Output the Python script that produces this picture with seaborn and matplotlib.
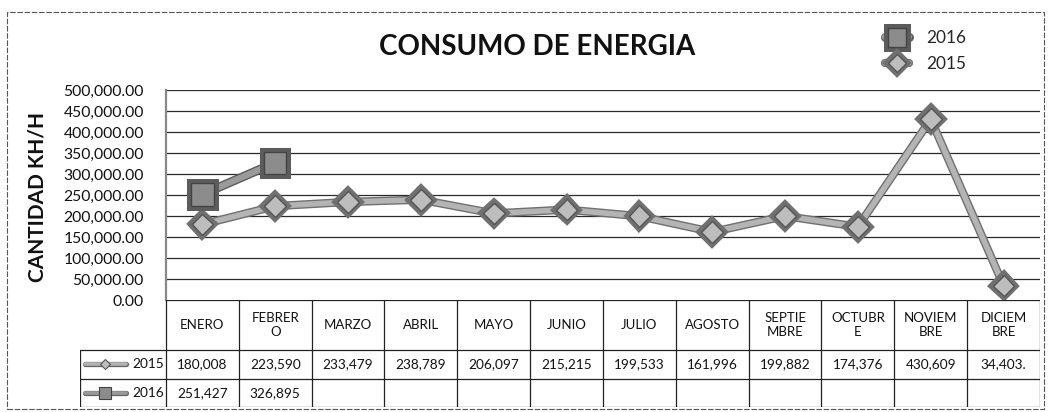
import numpy as np
import pandas as pd
import matplotlib
matplotlib.use("Agg")
import matplotlib.pyplot as plt
import matplotlib.patheffects as pe
from matplotlib.lines import Line2D
from matplotlib.patches import Rectangle
import seaborn as sns

# datos
meses = ["ENERO", "FEBRERO", "MARZO", "ABRIL", "MAYO", "JUNIO", "JULIO",
         "AGOSTO", "SEPTIEMBRE", "OCTUBRE", "NOVIEMBRE", "DICIEMBRE"]
consumo_2015 = [180008, 223590, 233479, 238789, 206097, 215215, 199533,
                161996, 199882, 174376, 430609, 34403]
consumo_2016 = [251427, 326895]
y_ticks = [0, 50000, 100000, 150000, 200000, 250000, 300000, 350000,
           400000, 450000, 500000]

W, H = 1049, 412

sns.set_theme(style="white")
plt.rcParams["font.family"] = ["Lato", "DejaVu Sans"]


def fig_box(x0, y0, x1, y1):
    # caja en pixeles (origen arriba a la izquierda) -> fraccion de figura
    return [x0 / W, 1 - y1 / H, (x1 - x0) / W, (y1 - y0) / H]


def celda(v):
    # excel recorta el numero al ancho de la celda
    return f"{v:,.2f}"[:7]


def encabezado(m):
    return m if len(m) <= 6 else m[:6] + "\n" + m[6:]


df15 = pd.DataFrame({"x": range(len(consumo_2015)), "y": consumo_2015})
df16 = pd.DataFrame({"x": range(len(consumo_2016)), "y": consumo_2016})

fig = plt.figure(figsize=(W / 100, H / 100), dpi=100)
fig.patch.set_facecolor("white")

plot_l, plot_r, plot_t, plot_b = 166, 1040, 90, 300
ax = fig.add_axes(fig_box(plot_l, plot_t, plot_r, plot_b))

estilo15 = dict(color="#b4b4b4", linewidth=4.0, marker="D", markersize=11,
                markerfacecolor="#bdbdbd", markeredgecolor="#555555",
                markeredgewidth=1.0,
                path_effects=[pe.Stroke(linewidth=6, foreground="#707070"), pe.Normal()])
estilo16 = dict(color="#9a9a9a", linewidth=4.5, marker="s", markersize=16,
                markerfacecolor="#8c8c8c", markeredgecolor="#444444",
                markeredgewidth=1.0,
                path_effects=[pe.Stroke(linewidth=6.5, foreground="#5c5c5c"), pe.Normal()])

sns.lineplot(data=df15, x="x", y="y", ax=ax, label="2015", zorder=3, **estilo15)
sns.lineplot(data=df16, x="x", y="y", ax=ax, label="2016", zorder=4, **estilo16)

ax.set_xlim(-0.5, len(meses) - 0.5)
ax.set_ylim(0, 500000)
ax.set_yticks(y_ticks)
ax.set_yticklabels([f"{v:,.2f}" for v in y_ticks], fontsize=11.3, color="#111111")
ax.set_xticks([])
ax.set_xlabel("")
ax.set_ylabel("CANTIDAD KH/H", fontsize=15, fontweight="bold", color="#111111")
ax.yaxis.set_label_coords(-(plot_l - 48) / (plot_r - plot_l), 0.49)
ax.tick_params(axis="y", length=0, pad=16)
for v in y_ticks[1:]:
    ax.axhline(v, color="#2a2a2a", linewidth=0.9, zorder=1)
for s in ["top", "right", "bottom"]:
    ax.spines[s].set_visible(False)
ax.spines["left"].set_color("#888888")
ax.spines["left"].set_linewidth(1.6)

handles, labels = ax.get_legend_handles_labels()
orden = [labels.index("2016"), labels.index("2015")]
leg = ax.legend([handles[i] for i in orden], [labels[i] for i in orden],
                loc="center left", bbox_to_anchor=(878 / W, 1 - 51 / H),
                bbox_transform=fig.transFigure, frameon=False, fontsize=12.4,
                handlelength=1.4, handletextpad=1.0, labelspacing=0.55,
                numpoints=1, markerscale=0.85, borderaxespad=0)

fig.text(537 / W, 1 - 47 / H, "CONSUMO DE ENERGIA", ha="center", va="center",
         fontsize=20, fontweight="bold", color="#111111")

# tabla de datos
lab_l = 80
filas = [300, 350, 379, 407]
tab = fig.add_axes(fig_box(lab_l, filas[0], plot_r, filas[-1]))
col_w = (plot_r - plot_l) / len(meses)
x_min = -0.5 - (plot_l - lab_l) / col_w
tab.set_xlim(x_min, len(meses) - 0.5)
tab.set_ylim(filas[-1], filas[0])
tab.axis("off")

lc = "#222222"
lw = 0.9
bordes = [i - 0.5 for i in range(len(meses) + 1)]
for xb in bordes:
    tab.plot([xb, xb], [filas[0], filas[-1]], color=lc, lw=lw)
tab.plot([x_min, x_min], [filas[1], filas[-1]], color=lc, lw=lw)
tab.plot([-0.5, len(meses) - 0.5], [filas[0], filas[0]], color=lc, lw=lw)
for yb in filas[1:]:
    tab.plot([x_min, len(meses) - 0.5], [yb, yb], color=lc, lw=lw)

for i, m in enumerate(meses):
    tab.text(i, (filas[0] + filas[1]) / 2, encabezado(m), ha="center", va="center",
             fontsize=9.5, color="#111111", linespacing=1.25)

series = [("2015", consumo_2015, estilo15), ("2016", consumo_2016, estilo16)]
for k, (nombre, valores, est) in enumerate(series):
    yc = (filas[k + 1] + filas[k + 2]) / 2
    for i, v in enumerate(valores):
        tab.text(i, yc, celda(v), ha="center", va="center", fontsize=9.8,
                 color="#111111")
    tab.text(-0.53, yc, nombre, ha="right", va="center", fontsize=9.8,
             color="#111111")
    # clave de leyenda pequena dentro de la celda
    kx0 = x_min + 5 / col_w
    kx1 = x_min + 46 / col_w
    tab.add_line(Line2D([kx0, kx1], [yc, yc], color=est["color"], linewidth=2.6,
                        path_effects=[pe.Stroke(linewidth=3.8, foreground="#666666"),
                                      pe.Normal()]))
    tab.add_line(Line2D([(kx0 + kx1) / 2], [yc], linestyle="none",
                        marker=est["marker"], markersize=est["markersize"] * 0.5,
                        markerfacecolor=est["markerfacecolor"],
                        markeredgecolor=est["markeredgecolor"], markeredgewidth=0.8))

fig.patches.append(Rectangle((7 / W, 1 - 409 / H), (1044 - 7) / W, (409 - 12) / H,
                             transform=fig.transFigure, fill=False,
                             edgecolor="#555555", linewidth=0.8,
                             linestyle=(0, (5, 1.5))))

fig.savefig("out.png", dpi=100, facecolor="white")
